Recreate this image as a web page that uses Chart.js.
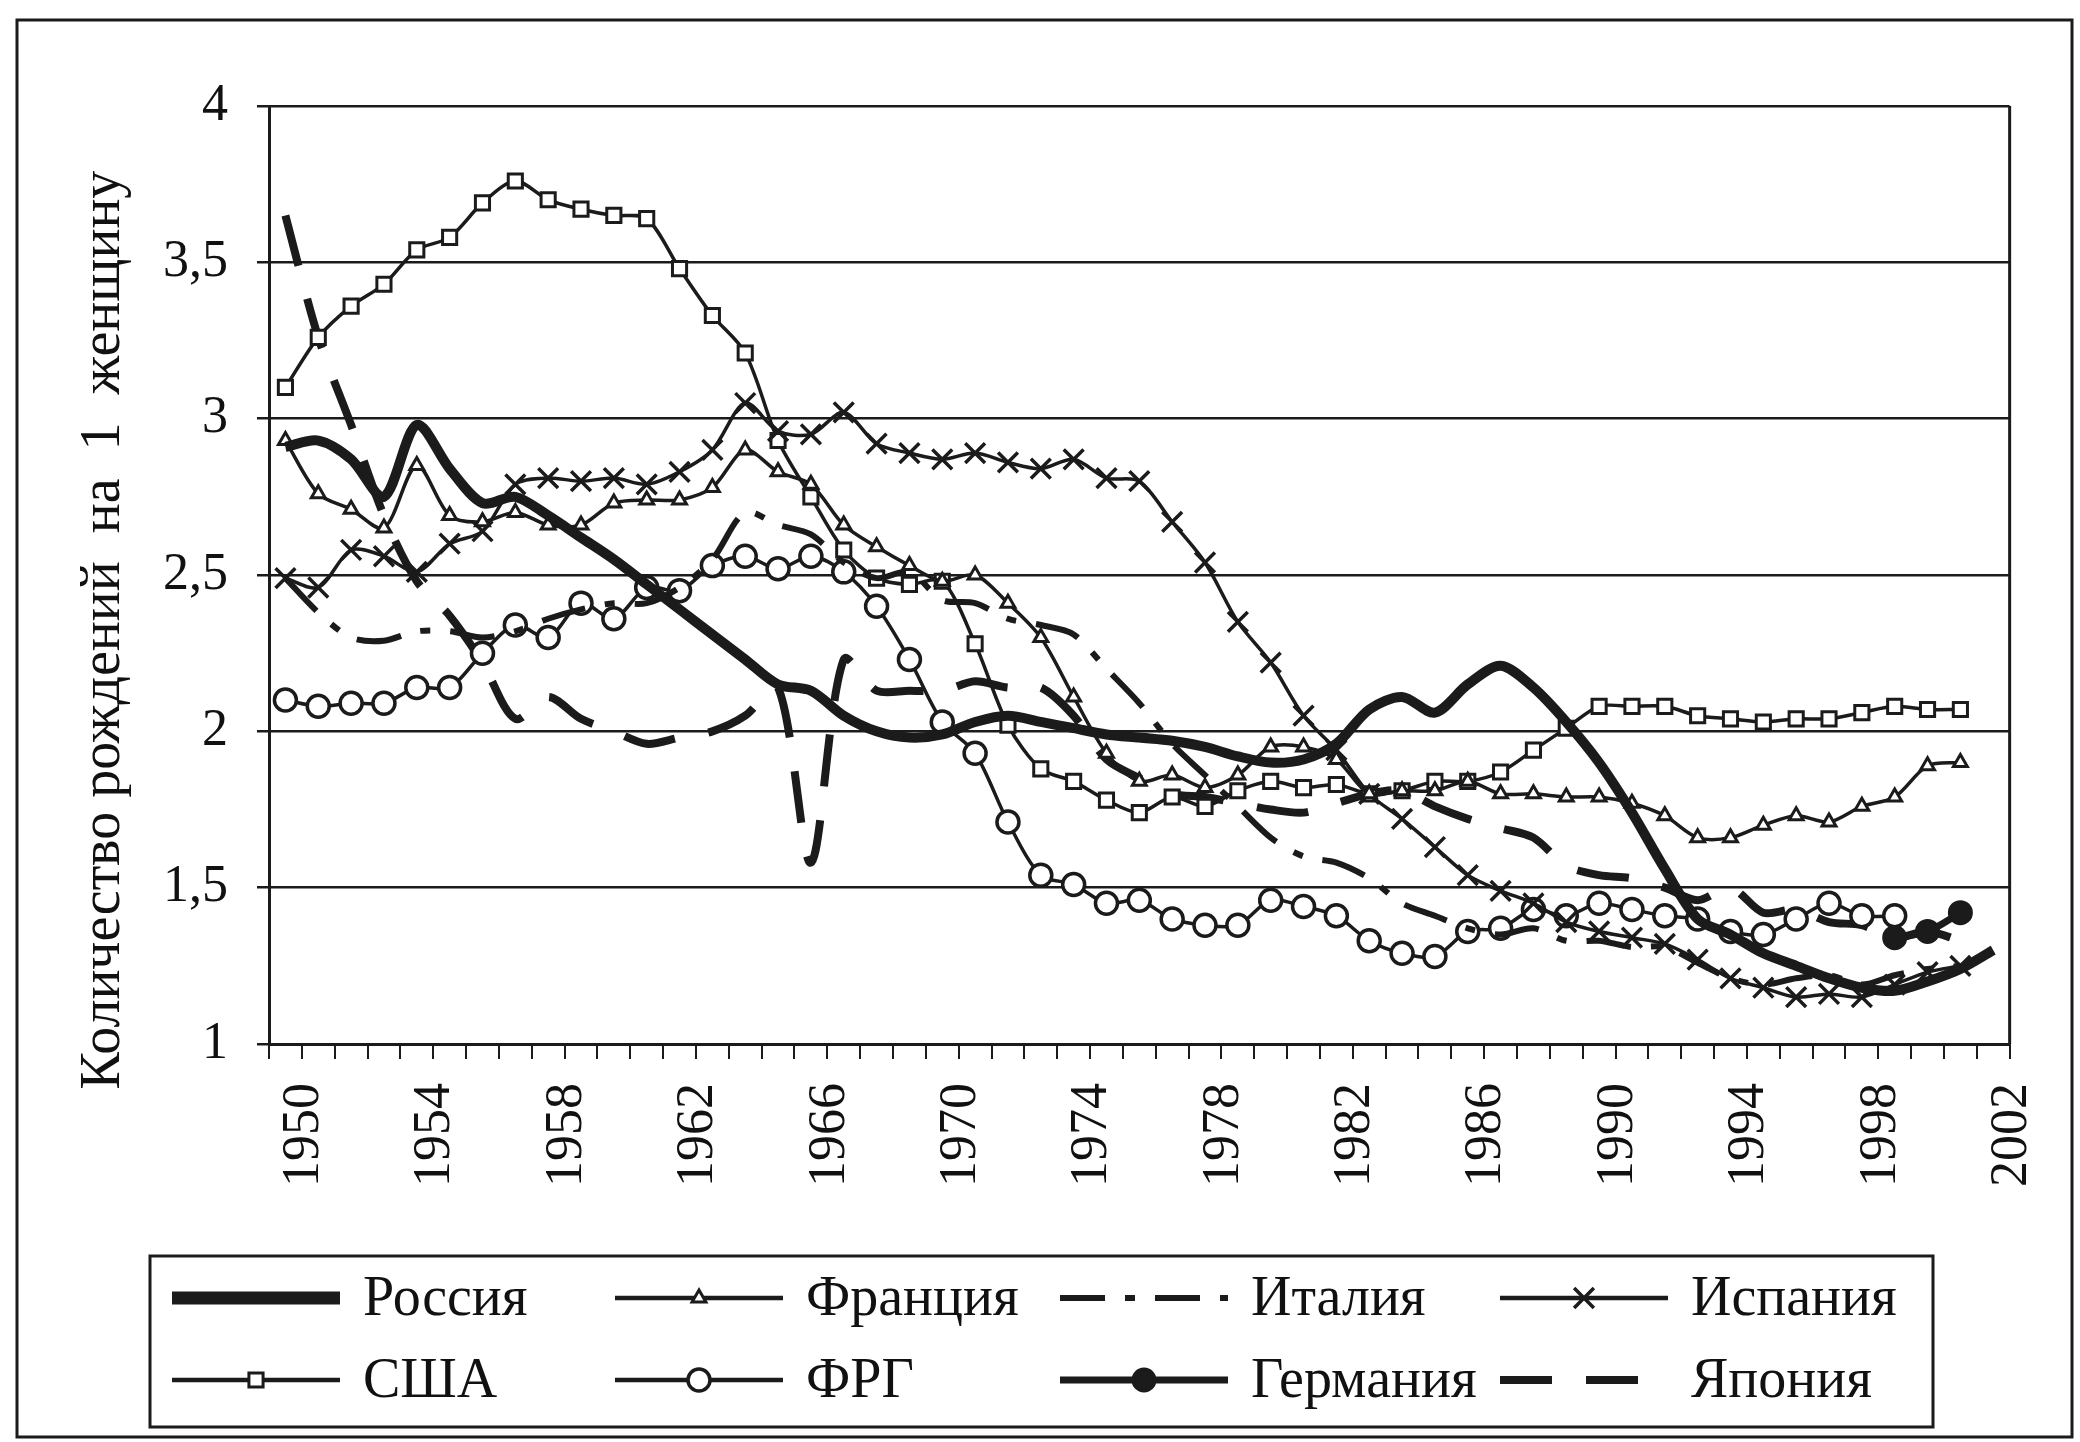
<!DOCTYPE html>
<html>
<head>
<meta charset="utf-8">
<script src="https://cdn.jsdelivr.net/npm/chart.js@4.4.1/dist/chart.umd.min.js"></script>
<style>
  html, body { margin: 0; padding: 0; background: #fff; }
  #wrap { width: 2080px; height: 1442px; }
</style>
</head>
<body>
<div id="wrap"><canvas id="chart" width="2080" height="1442"></canvas></div>
<script>
// Years on the category axis
const years = [1950, 1951, 1952, 1953, 1954, 1955, 1956, 1957, 1958, 1959,
  1960, 1961, 1962, 1963, 1964, 1965, 1966, 1967, 1968, 1969,
  1970, 1971, 1972, 1973, 1974, 1975, 1976, 1977, 1978, 1979,
  1980, 1981, 1982, 1983, 1984, 1985, 1986, 1987, 1988, 1989,
  1990, 1991, 1992, 1993, 1994, 1995, 1996, 1997, 1998, 1999,
  2000, 2001, 2002];

// Births per woman
const russia = [2.91, 2.93, 2.87, 2.75, 2.98, 2.84, 2.73, 2.75, 2.69, 2.62,
  2.55, 2.47, 2.39, 2.31, 2.23, 2.15, 2.13, 2.05, 2.00, 1.98,
  1.99, 2.03, 2.05, 2.03, 2.01, 1.99, 1.98, 1.97, 1.95, 1.92,
  1.90, 1.91, 1.96, 2.07, 2.11, 2.06, 2.15, 2.21, 2.14, 2.03,
  1.90, 1.74, 1.56, 1.40, 1.35, 1.29, 1.25, 1.21, 1.18, 1.17,
  1.20, 1.24, 1.30];
const france = [2.93, 2.76, 2.71, 2.65, 2.85, 2.69, 2.67, 2.70, 2.66, 2.66,
  2.73, 2.74, 2.74, 2.78, 2.90, 2.83, 2.79, 2.66, 2.59, 2.53,
  2.48, 2.50, 2.41, 2.30, 2.11, 1.93, 1.84, 1.86, 1.82, 1.86,
  1.95, 1.95, 1.91, 1.80, 1.81, 1.81, 1.84, 1.80, 1.80, 1.79,
  1.79, 1.77, 1.73, 1.66, 1.66, 1.70, 1.73, 1.71, 1.76, 1.79,
  1.89, 1.90, null];
const italy = [2.49, 2.38, 2.30, 2.29, 2.32, 2.32, 2.30, 2.32, 2.36, 2.39,
  2.41, 2.41, 2.46, 2.55, 2.70, 2.66, 2.63, 2.54, 2.49, 2.51,
  2.42, 2.41, 2.36, 2.34, 2.31, 2.20, 2.09, 1.96, 1.86, 1.76,
  1.66, 1.60, 1.58, 1.53, 1.45, 1.41, 1.37, 1.35, 1.37, 1.33,
  1.33, 1.31, 1.31, 1.26, 1.21, 1.19, 1.21, 1.22, 1.19, 1.22,
  1.24, 1.25, null];
const spain = [2.49, 2.46, 2.58, 2.56, 2.51, 2.60, 2.64, 2.79, 2.81, 2.80,
  2.81, 2.79, 2.83, 2.90, 3.05, 2.96, 2.95, 3.02, 2.92, 2.89,
  2.87, 2.89, 2.86, 2.84, 2.87, 2.81, 2.80, 2.67, 2.54, 2.35,
  2.22, 2.05, 1.94, 1.80, 1.72, 1.63, 1.54, 1.49, 1.45, 1.39,
  1.36, 1.34, 1.32, 1.27, 1.21, 1.18, 1.15, 1.16, 1.15, 1.19,
  1.23, 1.25, null];
const usa = [3.10, 3.26, 3.36, 3.43, 3.54, 3.58, 3.69, 3.76, 3.70, 3.67,
  3.65, 3.64, 3.48, 3.33, 3.21, 2.93, 2.75, 2.58, 2.49, 2.47,
  2.48, 2.28, 2.02, 1.88, 1.84, 1.78, 1.74, 1.79, 1.76, 1.81,
  1.84, 1.82, 1.83, 1.80, 1.81, 1.84, 1.84, 1.87, 1.94, 2.01,
  2.08, 2.08, 2.08, 2.05, 2.04, 2.03, 2.04, 2.04, 2.06, 2.08,
  2.07, 2.07, null];
const frg = [2.10, 2.08, 2.09, 2.09, 2.14, 2.14, 2.25, 2.34, 2.30, 2.41,
  2.36, 2.46, 2.45, 2.53, 2.56, 2.52, 2.56, 2.51, 2.40, 2.23,
  2.03, 1.93, 1.71, 1.54, 1.51, 1.45, 1.46, 1.40, 1.38, 1.38,
  1.46, 1.44, 1.41, 1.33, 1.29, 1.28, 1.36, 1.37, 1.43, 1.41,
  1.45, 1.43, 1.41, 1.40, 1.36, 1.35, 1.40, 1.45, 1.41, 1.41,
  null, null, null];
const germanyYears = [1999, 2000, 2001];
const germanyValues = [1.34, 1.36, 1.42];
const japan = [3.65, 3.26, 2.98, 2.69, 2.48, 2.37, 2.22, 2.04, 2.11, 2.04,
  2.00, 1.96, 1.98, 2.00, 2.05, 2.14, 1.58, 2.23, 2.13, 2.13,
  2.13, 2.16, 2.14, 2.14, 2.05, 1.91, 1.85, 1.80, 1.79, 1.77,
  1.75, 1.74, 1.77, 1.80, 1.81, 1.76, 1.72, 1.69, 1.66, 1.57,
  1.54, 1.53, 1.50, 1.46, 1.50, 1.42, 1.43, 1.39, 1.38, 1.34,
  1.36, 1.33, null];

const yTitle = 'Количество рождений  на  1  женщину';

// germany only has the last few years
const germany = years.map(y => {
  const k = germanyYears.indexOf(y);
  return k >= 0 ? germanyValues[k] : null;
});

const ink = '#1b1b1b';
const serif = '"Liberation Serif", "Times New Roman", serif';
Chart.defaults.font.family = serif;
Chart.defaults.color = '#111';

function line(label, data, extra) {
  return Object.assign({
    label: label,
    data: data,
    borderColor: ink,
    backgroundColor: ink,
    borderWidth: 3.5,
    pointRadius: 0,
    pointHoverRadius: 0,
    pointBackgroundColor: '#fff',
    pointBorderColor: ink,
    pointBorderWidth: 3,
    tension: 0.3,
    spanGaps: false
  }, extra);
}

const datasets = [
  line('Россия', russia, { borderWidth: 10 }),
  line('Франция', france, { pointStyle: 'triangle', pointRadius: 8 }),
  line('Италия', italy, { borderWidth: 6, borderDash: [45, 20, 10, 20] }),
  line('Испания', spain, { pointStyle: 'crossRot', pointRadius: 14, pointBorderWidth: 3.5 }),
  line('США', usa, { pointStyle: 'rect', pointRadius: 10 }),
  line('ФРГ', frg, { pointStyle: 'circle', pointRadius: 11, pointBorderWidth: 3.5 }),
  line('Германия', germany, { borderWidth: 7, pointStyle: 'circle', pointRadius: 11, pointBackgroundColor: ink }),
  line('Япония', japan, { borderWidth: 8, borderDash: [52, 34] })
];

function marker(ctx, style, r, x, y, fill, lw) {
  if (!style) return;
  ctx.save();
  ctx.lineWidth = lw;
  ctx.strokeStyle = ink;
  ctx.fillStyle = fill;
  ctx.setLineDash([]);
  ctx.beginPath();
  if (style === 'circle') {
    ctx.arc(x, y, r, 0, Math.PI * 2);
    ctx.fill(); ctx.stroke();
  } else if (style === 'rect') {
    const s = r * Math.SQRT1_2;
    ctx.rect(x - s, y - s, 2 * s, 2 * s);
    ctx.fill(); ctx.stroke();
  } else if (style === 'triangle') {
    ctx.moveTo(x, y - r);
    ctx.lineTo(x + r * 0.866, y + r * 0.5);
    ctx.lineTo(x - r * 0.866, y + r * 0.5);
    ctx.closePath();
    ctx.fill(); ctx.stroke();
  } else if (style === 'crossRot') {
    const s = r * Math.SQRT1_2;
    ctx.moveTo(x - s, y - s); ctx.lineTo(x + s, y + s);
    ctx.moveTo(x - s, y + s); ctx.lineTo(x + s, y - s);
    ctx.stroke();
  }
  ctx.restore();
}

const frameAndLegend = {
  id: 'frameAndLegend',
  beforeDraw(chart) {
    const ctx = chart.ctx;
    ctx.save();
    ctx.fillStyle = '#fff';
    ctx.fillRect(0, 0, chart.width, chart.height);
    ctx.restore();
  },
  afterDraw(chart) {
    const ctx = chart.ctx;
    const a = chart.chartArea;
    ctx.save();
    ctx.strokeStyle = ink;
    ctx.lineWidth = 3;
    ctx.beginPath();
    ctx.moveTo(a.right, a.top);
    ctx.lineTo(a.right, a.bottom);
    ctx.stroke();
    // outer frame of the figure
    ctx.strokeRect(17, 20, 2055, 1417);

    // y axis title
    ctx.save();
    ctx.translate(104, 630);
    ctx.rotate(-Math.PI / 2);
    ctx.font = '56px ' + serif;
    ctx.fillStyle = '#111';
    ctx.textAlign = 'center';
    ctx.textBaseline = 'middle';
    ctx.fillText(yTitle, 0, 0);
    ctx.restore();

    // legend
    ctx.lineWidth = 3;
    ctx.strokeRect(150, 1256, 1783, 171);
    const colX = [172, 615, 1060, 1500];
    const rowY = [1298, 1380];
    chart.data.datasets.forEach((ds, i) => {
      const x0 = colX[i % 4];
      const y0 = rowY[Math.floor(i / 4)];
      const len = 168;
      ctx.save();
      ctx.strokeStyle = ink;
      ctx.lineWidth = i === 0 ? 13 : Math.max(ds.borderWidth, 4.5);
      ctx.setLineDash(ds.borderDash || []);
      ctx.beginPath();
      ctx.moveTo(x0, y0);
      ctx.lineTo(x0 + len, y0);
      ctx.stroke();
      ctx.restore();
      marker(ctx, ds.pointStyle, ds.pointRadius, x0 + len / 2, y0, ds.pointBackgroundColor, ds.pointBorderWidth);
      ctx.font = '56px ' + serif;
      ctx.fillStyle = '#111';
      ctx.textAlign = 'left';
      ctx.textBaseline = 'middle';
      ctx.fillText(ds.label, x0 + 191, y0 + 2);
    });
    ctx.restore();
  }
};

const ctx = document.getElementById('chart');
new Chart(ctx, {
  type: 'line',
  data: { labels: years.map(String), datasets: datasets },
  options: {
    responsive: false,
    animation: false,
    devicePixelRatio: 1,
    layout: { padding: { left: 0, top: 106, right: 40, bottom: 0 } },
    plugins: { legend: { display: false }, tooltip: { enabled: false } },
    scales: {
      x: {
        type: 'category',
        offset: true,
        afterFit(scale) { scale.height = 398; },
        grid: { display: true, drawOnChartArea: false, drawTicks: true, tickLength: 15, color: ink, lineWidth: 2, offset: true },
        border: { display: true, color: ink, width: 3 },
        ticks: {
          autoSkip: false,
          maxRotation: 90,
          minRotation: 90,
          padding: 24,
          labelOffset: 19,
          font: { size: 52 },
          callback(value, index) { return index % 4 === 0 ? this.getLabelForValue(value) : ''; }
        }
      },
      y: {
        min: 1,
        max: 4,
        afterFit(scale) { scale.width = 269; },
        grid: { color: ink, lineWidth: 2.5, tickLength: 12 },
        border: { display: true, color: ink, width: 3 },
        ticks: {
          stepSize: 0.5,
          padding: 29,
          font: { size: 52 },
          callback(value) { return String(value).replace('.', ','); }
        }
      }
    }
  },
  plugins: [frameAndLegend]
});
</script>
</body>
</html>
